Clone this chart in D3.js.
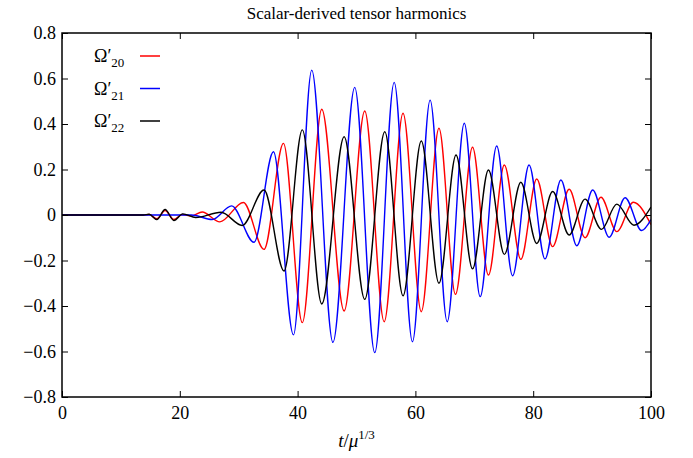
<!DOCTYPE html>
<html lang="en">
<head>
    <meta charset="UTF-8">
    <title>Scalar-derived tensor harmonics</title>
    <script src="https://cdn.jsdelivr.net/npm/d3@7.8.5/dist/d3.min.js"></script>
    <style>
        body { margin: 0; background: #fff; }
        text { font-family: "Liberation Serif", "DejaVu Serif", serif; fill: #000; }
    </style>
</head>
<body>
<div id="chart"></div>
<script type="text/javascript">
    // values (extrema of each curve)
    const redT = [0, 13.8, 14.8, 16.1, 17.5, 19.0, 20.4, 22.0, 23.8, 26.8, 30.8, 34.3, 37.6, 40.8, 44.1, 47.9, 51.4, 54.7, 57.9, 61.0, 64.0, 66.8, 69.7, 72.4, 75.1, 77.9, 80.6, 83.3, 86.1, 88.8, 91.5, 94.2, 97.0, 100];
    const redV = [0, 0, 0.002, -0.016, 0.02, -0.02, 0.002, -0.004, 0.013, -0.03, 0.055, -0.151, 0.315, -0.473, 0.465, -0.422, 0.457, -0.469, 0.447, -0.425, 0.381, -0.349, 0.298, -0.264, 0.22, -0.195, 0.158, -0.139, 0.113, -0.1, 0.078, -0.073, 0.056, -0.042];

    const blueT = [0, 22.0, 25.5, 28.8, 32.6, 35.9, 39.3, 42.4, 46.0, 49.7, 53.1, 56.4, 59.5, 62.5, 65.4, 68.3, 71.0, 73.8, 76.5, 79.3, 82.0, 84.7, 87.4, 90.1, 92.9, 95.6, 98.4, 100];
    const blueV = [0, 0, -0.02, 0.04, -0.12, 0.278, -0.527, 0.637, -0.56, 0.561, -0.605, 0.583, -0.557, 0.505, -0.469, 0.403, -0.359, 0.303, -0.267, 0.22, -0.193, 0.154, -0.135, 0.11, -0.098, 0.076, -0.068, -0.02];

    const blackT = [0, 13.8, 14.8, 16.1, 17.5, 19.0, 20.5, 22.7, 27.0, 30.6, 34.3, 37.7, 40.8, 44.1, 47.9, 51.4, 54.8, 57.9, 61.0, 64.0, 66.9, 69.7, 72.4, 75.1, 77.9, 80.6, 83.3, 86.1, 88.8, 91.6, 94.2, 97.1, 100];
    const blackV = [0, 0, 0.003, -0.02, 0.024, -0.024, 0.005, -0.011, 0.012, -0.046, 0.11, -0.246, 0.374, -0.391, 0.344, -0.371, 0.366, -0.355, 0.325, -0.30, 0.264, -0.237, 0.198, -0.173, 0.144, -0.125, 0.103, -0.088, 0.07, -0.063, 0.048, -0.045, 0.035];

    const seriesNames = ["20", "21", "22"];
    const seriesColors = ["#ff0000", "#0000ff", "#000000"];
    const xTicks = [0, 20, 40, 60, 80, 100];
    const yTicks = [-0.8, -0.6, -0.4, -0.2, 0, 0.2, 0.4, 0.6, 0.8];

    const width = 693, height = 458;
    const margin = {top: 33, right: 42, bottom: 61, left: 62};
    const innerW = width - margin.left - margin.right;
    const innerH = height - margin.top - margin.bottom;

    const series = [
        {name: seriesNames[0], color: seriesColors[0], pts: redT.map((t, i) => [t, redV[i]])},
        {name: seriesNames[1], color: seriesColors[1], pts: blueT.map((t, i) => [t, blueV[i]])},
        {name: seriesNames[2], color: seriesColors[2], pts: blackT.map((t, i) => [t, blackV[i]])}
    ];

    const x = d3.scaleLinear().domain([0, 100]).range([0, innerW]);
    const y = d3.scaleLinear().domain([-0.8, 0.8]).range([innerH, 0]);

    const svg = d3.select('#chart').append('svg')
        .attr('width', width)
        .attr('height', height);

    svg.append('text')
        .attr('x', margin.left + innerW / 2)
        .attr('y', 19)
        .attr('text-anchor', 'middle')
        .style('font-size', '17px')
        .text('Scalar-derived tensor harmonics');

    const g = svg.append('g').attr('transform', `translate(${margin.left},${margin.top})`);

    g.append('clipPath').attr('id', 'clip')
        .append('rect').attr('width', innerW).attr('height', innerH);

    const line = d3.line()
        .x(d => x(d[0]))
        .y(d => y(d[1]))
        .curve(d3.curveMonotoneX);

    g.append('g').attr('clip-path', 'url(#clip)')
        .selectAll('path')
        .data(series)
        .join('path')
        .attr('fill', 'none')
        .attr('stroke', d => d.color)
        .attr('stroke-width', 1.4)
        .attr('d', d => line(d.pts));

    const fmt = d => d === 0 ? "0" : d3.format(".1f")(d);

    // axes, ticks pointing inward on all four sides
    const axB = g.append('g').attr('transform', `translate(0,${innerH})`)
        .call(d3.axisBottom(x).tickValues(xTicks).tickSize(-6).tickPadding(9).tickFormat(d => d));
    const axL = g.append('g')
        .call(d3.axisLeft(y).tickValues(yTicks).tickSize(-6).tickPadding(6).tickFormat(fmt));
    const axT = g.append('g')
        .call(d3.axisTop(x).tickValues(xTicks).tickSize(-6).tickFormat(''));
    const axR = g.append('g').attr('transform', `translate(${innerW},0)`)
        .call(d3.axisRight(y).tickValues(yTicks).tickSize(-6).tickFormat(''));

    [axB, axL, axT, axR].forEach(a => {
        a.select('.domain').remove();
        a.selectAll('line').attr('stroke', '#000').attr('stroke-width', 1);
        a.selectAll('text').style('font-size', '18px').style('font-family', '"Liberation Serif", serif');
    });

    g.append('rect')
        .attr('width', innerW).attr('height', innerH)
        .attr('fill', 'none').attr('stroke', '#000').attr('stroke-width', 1.5);

    // x axis label  t/μ^{1/3}
    const xl = svg.append('text')
        .attr('x', margin.left + innerW / 2)
        .attr('y', 447)
        .attr('text-anchor', 'middle')
        .style('font-size', '19px');
    xl.append('tspan').style('font-style', 'italic').text('t');
    xl.append('tspan').text('/');
    xl.append('tspan').style('font-style', 'italic').text('μ');
    xl.append('tspan').attr('dy', -8).style('font-size', '13px').text('1/3');

    // legend
    const leg = g.append('g').attr('transform', 'translate(32,23)');
    series.forEach((s, i) => {
        const row = leg.append('g').attr('transform', `translate(0,${i * 32.5})`);
        const t = row.append('text').attr('x', 0).attr('y', 6).style('font-size', '18px');
        t.append('tspan').text('Ω′');
        t.append('tspan').attr('dy', 5).style('font-size', '13px').text(s.name);
        row.append('line')
            .attr('x1', 46).attr('x2', 66)
            .attr('y1', 0).attr('y2', 0)
            .attr('stroke', s.color).attr('stroke-width', 1.5);
    });
</script>
</body>
</html>
